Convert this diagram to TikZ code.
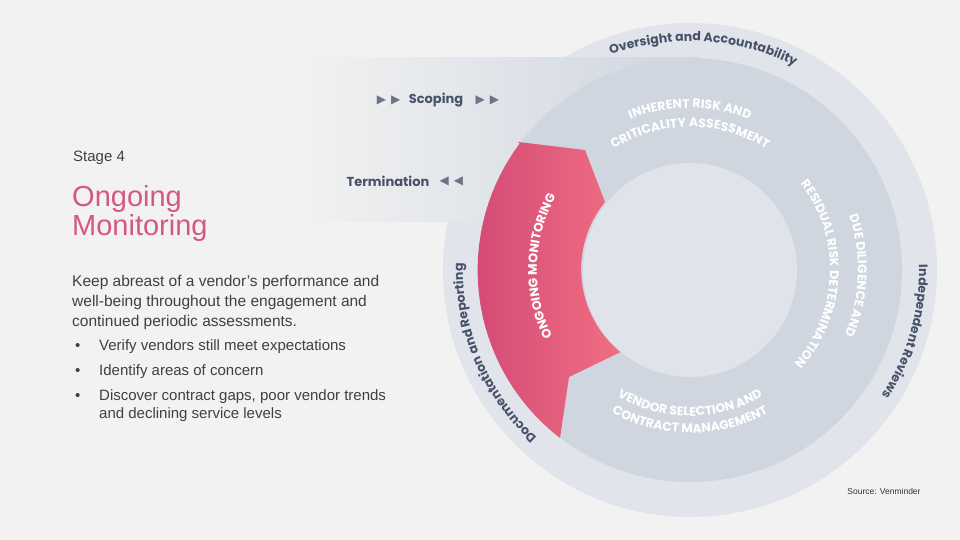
\documentclass[tikz,border=0pt]{standalone}
\usepackage{fontspec}
\setmainfont{Liberation Sans}
\newfontfamily\ringfont{Poppins}
\newfontfamily\symfont{DejaVu Sans}
\usetikzlibrary{positioning, calc, decorations.text}
\definecolor{bgGrey}{HTML}{F2F2F2}
\definecolor{outerRing}{HTML}{E1E4EA}
\definecolor{midRing}{HTML}{CFD6E0}
\definecolor{innerDisc}{HTML}{E0E3E9}
\definecolor{pinkDark}{HTML}{CF4574}
\definecolor{pinkLight}{HTML}{F06E82}
\definecolor{slate}{HTML}{47526A}
\definecolor{bodyText}{HTML}{404040}
\tikzset{%
  % Specifications for style of nodes:
        band/.style = {left color=bgGrey, right color=midRing, draw=none},
        ringtext/.style = {decorate, decoration={text along path,
                           text align=center, text color=#1}},
        steptext/.style = {font=\ringfont\bfseries\fontsize{13}{14}\selectfont,
                           text=slate, inner sep=0pt},
        arrowtip/.style = {font=\symfont\fontsize{12}{12}\selectfont,
                           text=slate!80, inner sep=0pt},
        body/.style = {font=\fontsize{15}{18}\selectfont, text=bodyText,
                           anchor=west, inner sep=0pt, align=left}
}
\newcommand{\ringsty}[1]{|\ringfont\bfseries\fontsize{#1}{#1}\selectfont|}

\begin{document}
\begin{tikzpicture}[x=1pt, y=1pt]
  \useasboundingbox[fill=bgGrey] (0,0) rectangle (960,540);
  \coordinate (c) at (690,270);

  % Rings and bands
    \fill[outerRing] (c) circle[radius=247];
    \fill[band] (290,400) rectangle (700,482);
    \fill[band] (290,318) rectangle (700,400);
    \fill[midRing] (c) circle[radius=212];
    \fill[innerDisc] (c) circle[radius=107];
    \shade[left color=pinkDark, right color=pinkLight]
      (518,398) -- (585,390) -- (605,338)
      arc[start angle=141, end angle=230.7, radius=107]
      -- (569,163) -- (560,102)
      arc[start angle=232.3, end angle=143.3, radius=212] -- cycle;

  % Texts on the outer ring
  \path[ringtext=slate, decoration={text={\ringsty{12.5}Oversight and Accountability}}]
    ($(c)+(115:229)$) arc[start angle=115, end angle=58, radius=229];
  \path[ringtext=slate, decoration={text={\ringsty{12.5}Independent Reviews}}]
    ($(c)+(8:229)$) arc[start angle=8, end angle=-40, radius=229];
  \path[ringtext=slate, decoration={text={\ringsty{12.5}Documentation and Reporting}}]
    ($(c)+(236:227)$) arc[start angle=236, end angle=170, radius=227];

  % Texts on the middle ring
  \path[ringtext=white, decoration={text={\ringsty{12.5}INHERENT RISK AND}}]
    ($(c)+(112:162)$) arc[start angle=112, end angle=68, radius=162];
  \path[ringtext=white, decoration={text={\ringsty{12.5}CRITICALITY ASSESSMENT}}]
    ($(c)+(122:143)$) arc[start angle=122, end angle=58, radius=143];
  \path[ringtext=white, decoration={text={\ringsty{12.5}DUE DILIGENCE AND}}]
    ($(c)+(28:168)$) arc[start angle=28, end angle=-32, radius=168];
  \path[ringtext=white, decoration={text={\ringsty{12.5}RESIDUAL RISK DETERMINATION}}]
    ($(c)+(38:140)$) arc[start angle=38, end angle=-42, radius=140];
  \path[ringtext=white, decoration={text={\ringsty{12.5}VENDOR SELECTION AND}}]
    ($(c)+(232:146)$) arc[start angle=232, end angle=308, radius=146];
  \path[ringtext=white, decoration={text={\ringsty{12.5}CONTRACT MANAGEMENT}}]
    ($(c)+(232:163)$) arc[start angle=232, end angle=308, radius=163];
  \path[ringtext=white, decoration={text={\ringsty{12.5}ONGOING MONITORING}}]
    ($(c)+(211:153)$) arc[start angle=211, end angle=146, radius=153];

  % Scoping and termination labels
    \node (scoping)  [steptext] at (436,440) {Scoping};
    \node (scopeIn)  [arrowtip, left=8pt of scoping] {▶\hspace{5pt}▶};
    \node (scopeOut) [arrowtip, right=12pt of scoping] {▶\hspace{5pt}▶};
    \node (termination) [steptext] at (388,359) {Termination};
    \node (termOut)  [arrowtip, right=10pt of termination] {◀\hspace{5pt}◀};

  % Stage description
    \node (stage) [body, font=\fontsize{15}{16}\selectfont] at (73,382) {Stage 4};
    \node (title) [body, text=pinkDark!90, font=\fontsize{29}{29}\selectfont]
          at (72,326) {Ongoing\\Monitoring};
    \node (intro) [body, font=\fontsize{15.5}{20}\selectfont] at (72,238)
          {Keep abreast of a vendor’s performance and\\well-being throughout the engagement and\\continued periodic assessments.};
    \node (b1) [body] at (75,193) {•};
    \node (v1) [body] at (99,193) {Verify vendors still meet expectations};
    \node (b2) [body] at (75,168) {•};
    \node (v2) [body] at (99,168) {Identify areas of concern};
    \node (b3) [body] at (75,143) {•};
    \node (v3) [body, anchor=north west]
          at (99,151) {Discover contract gaps, poor vendor trends\\and declining service levels};
    \node (source) [inner sep=0pt, font=\fontsize{8.5}{9}\selectfont, text=black!80]
          at (884,49) {Source: Venminder};
\end{tikzpicture}
\end{document}
